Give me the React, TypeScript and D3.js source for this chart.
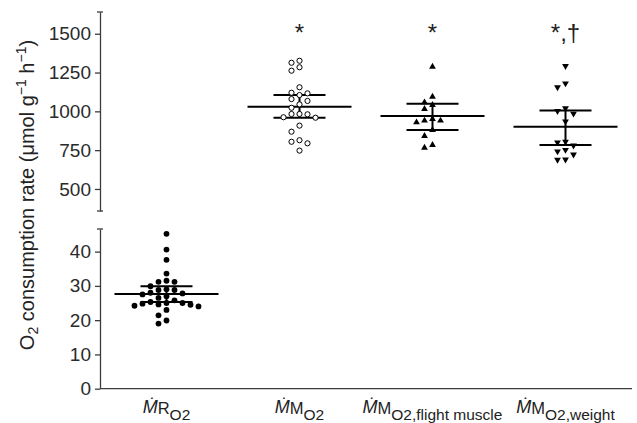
import React, { useEffect, useRef } from 'react';
import * as d3 from 'd3';

const groups = ['RO2', 'MO2', 'MO2flight', 'MO2weight'];

const mRO2 = [45.2, 40.6, 37.6, 33.6, 31.5, 31.2, 31.2, 29.9, 29.0, 28.8, 28.8, 28.0, 27.8, 27.5, 27.0,
  26.5, 25.8, 25.3, 25.0, 25.0, 24.8, 24.6, 24.5, 24.2, 24.0, 23.0, 21.4, 19.9, 19.0];
const mMO2 = [1326, 1313, 1284, 1262, 1155, 1120, 1116, 1105, 1079, 1067, 1045, 1023, 983, 983, 981,
  962, 959, 908, 869, 814, 804, 794, 747];
const mMO2Flight = [1287, 1094, 1058, 1041, 1015, 951, 940, 940, 929, 880, 841, 783, 766];
const mMO2Weight = [1292, 1180, 1155, 1020, 1002, 985, 935, 805, 800, 780, 752, 742, 722, 690, 688];

// mean and 95% CI drawn over each group
const means = [27.6, 1030, 970, 900];
const ciLow = [25.3, 959, 880, 783];
const ciHigh = [29.9, 1105, 1049, 1005];

const upperTicks = [500, 750, 1000, 1250, 1500];
const lowerTicks = [0, 10, 20, 30, 40];
const marks = ['', '*', '*', '*,\u2020'];

const FONT = '"Liberation Sans", Arial, "DejaVu Sans", sans-serif';

function swarm(vals: number[], y: (v: number) => number, step: number, d: number) {
  const sorted = vals.slice().sort((a, b) => b - a);
  const placed: { k: number; py: number }[] = [];
  return sorted.map(v => {
    const py = y(v);
    for (let i = 0; ; i++) {
      const k = i === 0 ? 0 : (i % 2 ? -Math.ceil(i / 2) : Math.ceil(i / 2));
      if (!placed.some(p => p.k === k && Math.abs(p.py - py) < d)) {
        placed.push({ k, py });
        return { v, dx: k * step };
      }
    }
  });
}

const App = () => {
  const svgRef = useRef<SVGSVGElement>(null);

  useEffect(() => {
    const svg = d3.select(svgRef.current);
    svg.selectAll('*').remove();

    const x = d3.scaleBand().domain(groups).range([100, 632]);
    const yLow = d3.scaleLinear().domain([0, 46.6]).range([388.7, 229]);
    const yHigh = d3.scaleLinear().domain([358, 1640]).range([211, 12]);
    const axisCol = '#3c3c3c';

    // y axes
    const gHigh = svg.append('g').attr('transform', 'translate(100,0)')
      .call(d3.axisLeft(yHigh).tickValues(upperTicks).tickFormat(d3.format('d'))
        .tickSize(5).tickSizeOuter(0).tickPadding(4));
    const gLow = svg.append('g').attr('transform', 'translate(100,0)')
      .call(d3.axisLeft(yLow).tickValues(lowerTicks).tickFormat(d3.format('d'))
        .tickSize(5).tickSizeOuter(0).tickPadding(4));
    [gHigh, gLow].forEach(g => {
      g.selectAll('path,line').attr('stroke', axisCol).attr('stroke-width', 1.3);
      g.selectAll('text').attr('font-size', 19).attr('font-family', FONT).attr('fill', '#2a2a2a');
    });
    // break caps
    [yHigh.range()[0], yHigh.range()[1], yLow.range()[1]].forEach(yy => {
      svg.append('line').attr('x1', 97).attr('x2', 103).attr('y1', yy).attr('y2', yy)
        .attr('stroke', axisCol).attr('stroke-width', 1.3);
    });
    // x axis
    svg.append('line').attr('x1', 100).attr('x2', 632).attr('y1', yLow(0)).attr('y2', yLow(0))
      .attr('stroke', axisCol).attr('stroke-width', 1.3);

    const data = [mRO2, mMO2, mMO2Flight, mMO2Weight];
    const scales = [yLow, yHigh, yHigh, yHigh];

    data.forEach((vals, i) => {
      const cx = (x(groups[i]) as number) + x.bandwidth() / 2;
      const y = scales[i];
      // mean and CI
      const g = svg.append('g').attr('stroke', '#000').attr('stroke-width', 2);
      g.append('line').attr('x1', cx - 52).attr('x2', cx + 52).attr('y1', y(means[i])).attr('y2', y(means[i]));
      g.append('line').attr('x1', cx - 26).attr('x2', cx + 26).attr('y1', y(ciLow[i])).attr('y2', y(ciLow[i]));
      g.append('line').attr('x1', cx - 26).attr('x2', cx + 26).attr('y1', y(ciHigh[i])).attr('y2', y(ciHigh[i]));
      g.append('line').attr('x1', cx).attr('x2', cx).attr('y1', y(ciLow[i])).attr('y2', y(ciHigh[i]));

      const pts = swarm(vals, y, 8, 6.2);
      const sel = svg.append('g').selectAll('path').data(pts).enter();
      if (i === 0) {
        sel.append('circle').attr('cx', d => cx + d.dx).attr('cy', d => y(d.v)).attr('r', 2.9).attr('fill', '#000');
      } else if (i === 1) {
        sel.append('circle').attr('cx', d => cx + d.dx).attr('cy', d => y(d.v)).attr('r', 2.6)
          .attr('fill', '#fff').attr('stroke', '#000').attr('stroke-width', 1);
      } else {
        const sym = d3.symbol().type(d3.symbolTriangle).size(20);
        sel.append('path').attr('d', sym())
          .attr('transform', d => `translate(${cx + d.dx},${y(d.v)})${i === 3 ? ' rotate(180)' : ''}`)
          .attr('fill', '#000');
      }

      if (marks[i]) {
        svg.append('text').attr('x', cx).attr('y', 41).attr('text-anchor', 'middle')
          .attr('font-family', FONT).attr('font-size', 24).attr('fill', '#222').text(marks[i]);
      }
    });

    // x labels
    const subs = ['R', 'M', 'M', 'M'];
    const subsubs = ['O2', 'O2', 'O2,flight muscle', 'O2,weight'];
    groups.forEach((gname, i) => {
      const cx = (x(gname) as number) + x.bandwidth() / 2;
      const t = svg.append('text').attr('x', cx).attr('y', 413).attr('text-anchor', 'middle')
        .attr('font-family', FONT).attr('fill', '#222');
      t.append('tspan').attr('font-size', 18).attr('font-style', 'italic').text('\u1E40');
      t.append('tspan').attr('font-size', 16.5).attr('dy', 0.5).text(subs[i]);
      t.append('tspan').attr('font-size', 15.5).attr('dy', 6).text(subsubs[i]);
    });

    // y title
    const title = svg.append('text').attr('transform', 'translate(34,195) rotate(-90)')
      .attr('text-anchor', 'middle').attr('font-family', FONT).attr('font-size', 20).attr('fill', '#222');
    title.append('tspan').text('O');
    title.append('tspan').attr('font-size', 14).attr('dy', 4).text('2');
    title.append('tspan').attr('dy', -4).text(' consumption rate (\u03BCmol g');
    title.append('tspan').attr('font-size', 14).attr('dy', -8).text('\u22121');
    title.append('tspan').attr('dy', 8).text(' h');
    title.append('tspan').attr('font-size', 14).attr('dy', -8).text('\u22121');
    title.append('tspan').attr('dy', 8).text(')');
  }, []);

  return (
    <svg ref={svgRef} width={637} height={423}
      style={{ position: 'absolute', left: 0, top: 0, background: '#fff' }} />
  );
};

export default App;
